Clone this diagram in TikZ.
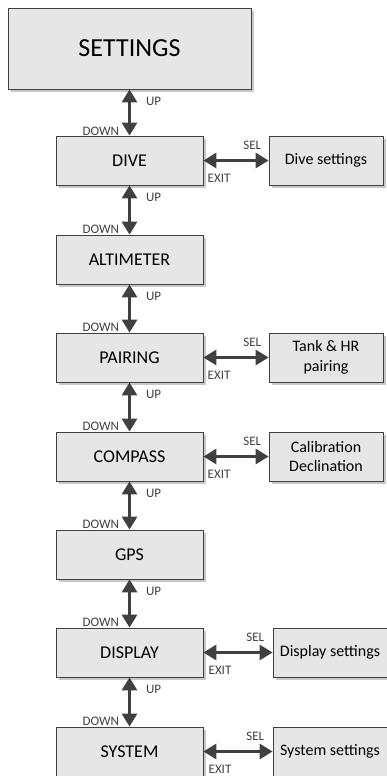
\documentclass[tikz,border=0pt]{standalone}
\usepackage{fontspec}
\setmainfont{Carlito}
\usetikzlibrary{arrows.meta, positioning, shadows}
\definecolor{boxfill}{HTML}{E6E6E6}
\definecolor{boxline}{HTML}{404040}
\definecolor{shadowgray}{HTML}{C8C8C8}

\begin{document}
\begin{tikzpicture}[x=1pt, y=-1pt,
  menu/.style={rectangle, draw=boxline, fill=boxfill, line width=0.8pt, minimum width=147pt, minimum height=49pt, inner sep=0pt, font=\fontsize{18}{21.6}\selectfont, drop shadow={shadow xshift=3pt, shadow yshift=-3pt, fill=shadowgray, opacity=1}},
  sub/.style={menu, minimum width=114pt, align=center, font=\fontsize{16}{19.5}\selectfont},
  nav/.style={<->, >={Triangle[length=13pt, width=15pt]}, line width=3pt, boxline},
  lbl/.style={font=\fontsize{13}{15}\selectfont, inner sep=1pt}
]
\useasboundingbox (0,0) rectangle (387,776);

\node[menu, minimum width=243pt, minimum height=81pt, font=\fontsize{26}{31}\selectfont] (settings) at (129.5,48.5) {SETTINGS};
\node[menu] (dive) at (129.5,160.5) {DIVE};
\node[menu] (alti) at (129.5,259.5) {ALTIMETER};
\node[menu] (pair) at (129.5,357.5) {PAIRING};
\node[menu] (comp) at (129.5,456.5) {COMPASS};
\node[menu] (gps) at (129.5,554.5) {GPS};
\node[menu] (disp) at (129.5,652.5) {DISPLAY};
\node[menu] (sys) at (129.5,751.5) {SYSTEM};

\node[sub] (diveset) at (326,160.5) {Dive settings};
\node[sub] (pairset) at (326,357.5) {Tank \& HR\\pairing};
\node[sub] (compset) at (326,456.5) {Calibration\\Declination};
\node[sub] (dispset) at (330,652.5) {Display settings};
\node[sub] (sysset) at (330,751.5) {System settings};

% up / down
\draw[nav] (settings) -- (dive) node[lbl, pos=0.26, right=14pt] {UP} node[lbl, pos=0.91, left=8pt] {DOWN};
\draw[nav] (dive) -- (alti) node[lbl, pos=0.25, right=14pt] {UP} node[lbl, pos=0.9, left=8pt] {DOWN};
\draw[nav] (alti) -- (pair) node[lbl, pos=0.25, right=14pt] {UP} node[lbl, pos=0.9, left=8pt] {DOWN};
\draw[nav] (pair) -- (comp) node[lbl, pos=0.25, right=14pt] {UP} node[lbl, pos=0.9, left=8pt] {DOWN};
\draw[nav] (comp) -- (gps) node[lbl, pos=0.25, right=14pt] {UP} node[lbl, pos=0.9, left=8pt] {DOWN};
\draw[nav] (gps) -- (disp) node[lbl, pos=0.25, right=14pt] {UP} node[lbl, pos=0.9, left=8pt] {DOWN};
\draw[nav] (disp) -- (sys) node[lbl, pos=0.25, right=14pt] {UP} node[lbl, pos=0.9, left=8pt] {DOWN};

% select / exit
\draw[nav] (dive) -- (diveset) node[lbl, pos=0.75, above=8pt] {SEL} node[lbl, pos=0.24, below=11pt] {EXIT};
\draw[nav] (pair) -- (pairset) node[lbl, pos=0.75, above=8pt] {SEL} node[lbl, pos=0.24, below=11pt] {EXIT};
\draw[nav] (comp) -- (compset) node[lbl, pos=0.75, above=8pt] {SEL} node[lbl, pos=0.24, below=11pt] {EXIT};
\draw[nav] (disp) -- (dispset) node[lbl, pos=0.75, above=8pt] {SEL} node[lbl, pos=0.24, below=11pt] {EXIT};
\draw[nav] (sys) -- (sysset) node[lbl, pos=0.75, above=8pt] {SEL} node[lbl, pos=0.24, below=11pt] {EXIT};
\end{tikzpicture}
\end{document}
